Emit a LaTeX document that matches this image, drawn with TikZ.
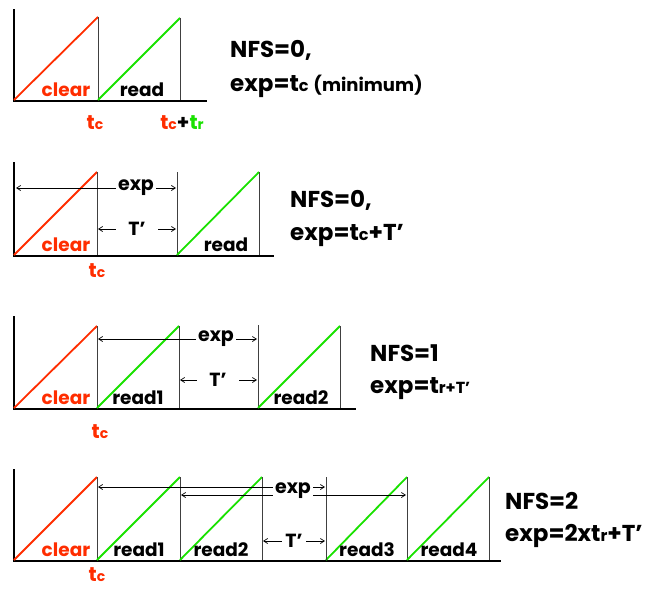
\documentclass[tikz,border=0pt]{standalone}
\usepackage{fontspec}
\setmainfont{Poppins}
\usetikzlibrary{arrows.meta}

\definecolor{clrred}{RGB}{255,45,0}
\definecolor{rdgreen}{RGB}{25,225,0}
\newcommand{\lowsub}[1]{{\fontsize{0.7em}{1em}\selectfont #1}}

\tikzset{
  axis/.style={line width=2.2pt, line cap=rect},
  sep/.style={line width=0.8pt, black!75},
  ramp/.style={line width=1.8pt},
  lbl/.style={font=\fontsize{18.5}{18.5}\selectfont\bfseries, inner sep=0pt, anchor=base},
  tlbl/.style={font=\fontsize{20}{20}\selectfont\bfseries, inner sep=0pt, anchor=base},
  eqn/.style={font=\fontsize{23}{25}\selectfont\bfseries, inner sep=0pt, anchor=base west},
  dim/.style={line width=0.7pt, {Straight Barb[length=4pt,width=5pt]}-{Straight Barb[length=4pt,width=5pt]}},
  gap/.style={fill=white, inner sep=2pt, font=\fontsize{19}{19}\selectfont\bfseries},
  wgap/.style={gap, inner xsep=12pt}
}

\begin{document}
\begin{tikzpicture}[x=1pt,y=-1pt]
\useasboundingbox (0,0) rectangle (652,588);

% Panel 1: NFS=0, minimum
\draw[axis] (14,10) -- (14,101) -- (206,101);
\draw[ramp, clrred] (14,100) -- (98,17) coordinate (a1);
\draw[sep] (a1) -- (98,100);
\draw[ramp, rdgreen] (98,100) -- (180,18) coordinate (b1);
\draw[sep] (b1) -- (180,100);
\node[lbl, clrred] (clr1) at (66,97) {clear};
\node[lbl] (rd1) at (142,97) {read};
\node[tlbl, clrred] (tc1) at (95,130) {t\lowsub{c}};
\node[tlbl] (tctr) at (182,130) {\textcolor{clrred}{t\lowsub{c}}+\textcolor{rdgreen}{t\lowsub{r}}};
\node[eqn] (nfs1) at (230,58) {NFS=0,};
\node[eqn] (exp1) at (230,92) {exp=t\lowsub{c} {\fontsize{18}{18}\selectfont(minimum)}};

% Panel 2: NFS=0, with T'
\draw[axis] (14,163) -- (14,256) -- (273,256);
\draw[ramp, clrred] (14,255) -- (97,172) coordinate (a2);
\draw[sep] (a2) -- (97,255);
\draw[sep] (177,172) -- (177,255);
\draw[ramp, rdgreen] (177,255) -- (259,172) coordinate (b2);
\draw[sep] (b2) -- (259,255);
\coordinate (e2l) at (16,188);
\coordinate (e2r) at (176,188);
\draw[dim] (e2l) -- (e2r);
\node[gap] (exp2) at (136,188) {exp};
\coordinate (t2l) at (98,229);
\coordinate (t2r) at (176,229);
\draw[dim] (t2l) -- (t2r);
\node[wgap] (tp2) at (137,229) {T’};
\node[lbl, clrred] (clr2) at (66,251) {clear};
\node[lbl] (rd2) at (226,251) {read};
\node[tlbl, clrred] (tc2) at (97,277) {t\lowsub{c}};
\node[eqn] (nfs2) at (290,207) {NFS=0,};
\node[eqn] (exp2e) at (290,240) {exp=t\lowsub{c}+T’};

% Panel 3: NFS=1
\draw[axis] (14,317) -- (14,409) -- (355,409);
\draw[ramp, clrred] (14,408) -- (97,326) coordinate (a3);
\draw[sep] (a3) -- (97,408);
\draw[ramp, rdgreen] (97,408) -- (179,326) coordinate (b3);
\draw[sep] (b3) -- (179,408);
\draw[sep] (258,325) -- (258,408);
\draw[ramp, rdgreen] (258,408) -- (340,326) coordinate (c3);
\draw[sep] (c3) -- (340,408);
\coordinate (e3l) at (98,339);
\coordinate (e3r) at (257,339);
\draw[dim] (e3l) -- (e3r);
\node[gap] (exp3) at (216,339) {exp};
\coordinate (t3l) at (180,380);
\coordinate (t3r) at (257,380);
\draw[dim] (t3l) -- (t3r);
\node[wgap] (tp3) at (218,380) {T’};
\node[lbl, clrred] (clr3) at (66,404) {clear};
\node[lbl] (rd31) at (138,404) {read1};
\node[lbl] (rd32) at (301,404) {read2};
\node[tlbl, clrred] (tc3) at (100,438) {t\lowsub{c}};
\node[eqn] (nfs3) at (370,361) {NFS=1};
\node[eqn] (exp3e) at (370,393) {exp=t{\fontsize{16}{16}\selectfont r+T’}};

% Panel 4: NFS=2
\draw[axis] (14,470) -- (14,561) -- (500,561);
\draw[ramp, clrred] (14,560) -- (97,477) coordinate (a4);
\draw[sep] (a4) -- (97,560);
\foreach \xs/\xe in {97/180, 180/262, 326/407, 407/489}{
  \draw[ramp, rdgreen] (\xs,560) -- (\xe,477);
  \draw[sep] (\xe,477) -- (\xe,560);
}
\draw[sep] (326,477) -- (326,560);
\coordinate (e4l) at (98,487);
\coordinate (e4r) at (325,487);
\draw[dim] (e4l) -- (e4r);
\coordinate (f4l) at (181,495);
\coordinate (f4r) at (406,495);
\draw[dim] (f4l) -- (f4r);
\node[gap, inner ysep=1pt] (exp4) at (293,491) {exp};
\coordinate (t4l) at (263,541);
\coordinate (t4r) at (325,541);
\draw[dim] (t4l) -- (t4r);
\node[gap, inner xsep=3pt] (tp4) at (294,541) {T’};
\node[lbl, clrred] (clr4) at (66,556) {clear};
\node[lbl] (rd41) at (139,556) {read1};
\node[lbl] (rd42) at (221,556) {read2};
\node[lbl] (rd43) at (367,556) {read3};
\node[lbl] (rd44) at (449,556) {read4};
\node[tlbl, clrred] (tc4) at (97,581) {t\lowsub{c}};
\node[eqn] (nfs4) at (505,509) {NFS=2};
\node[eqn] (exp4e) at (505,541) {exp=2xt\lowsub{r}+T’};
\end{tikzpicture}
\end{document}
